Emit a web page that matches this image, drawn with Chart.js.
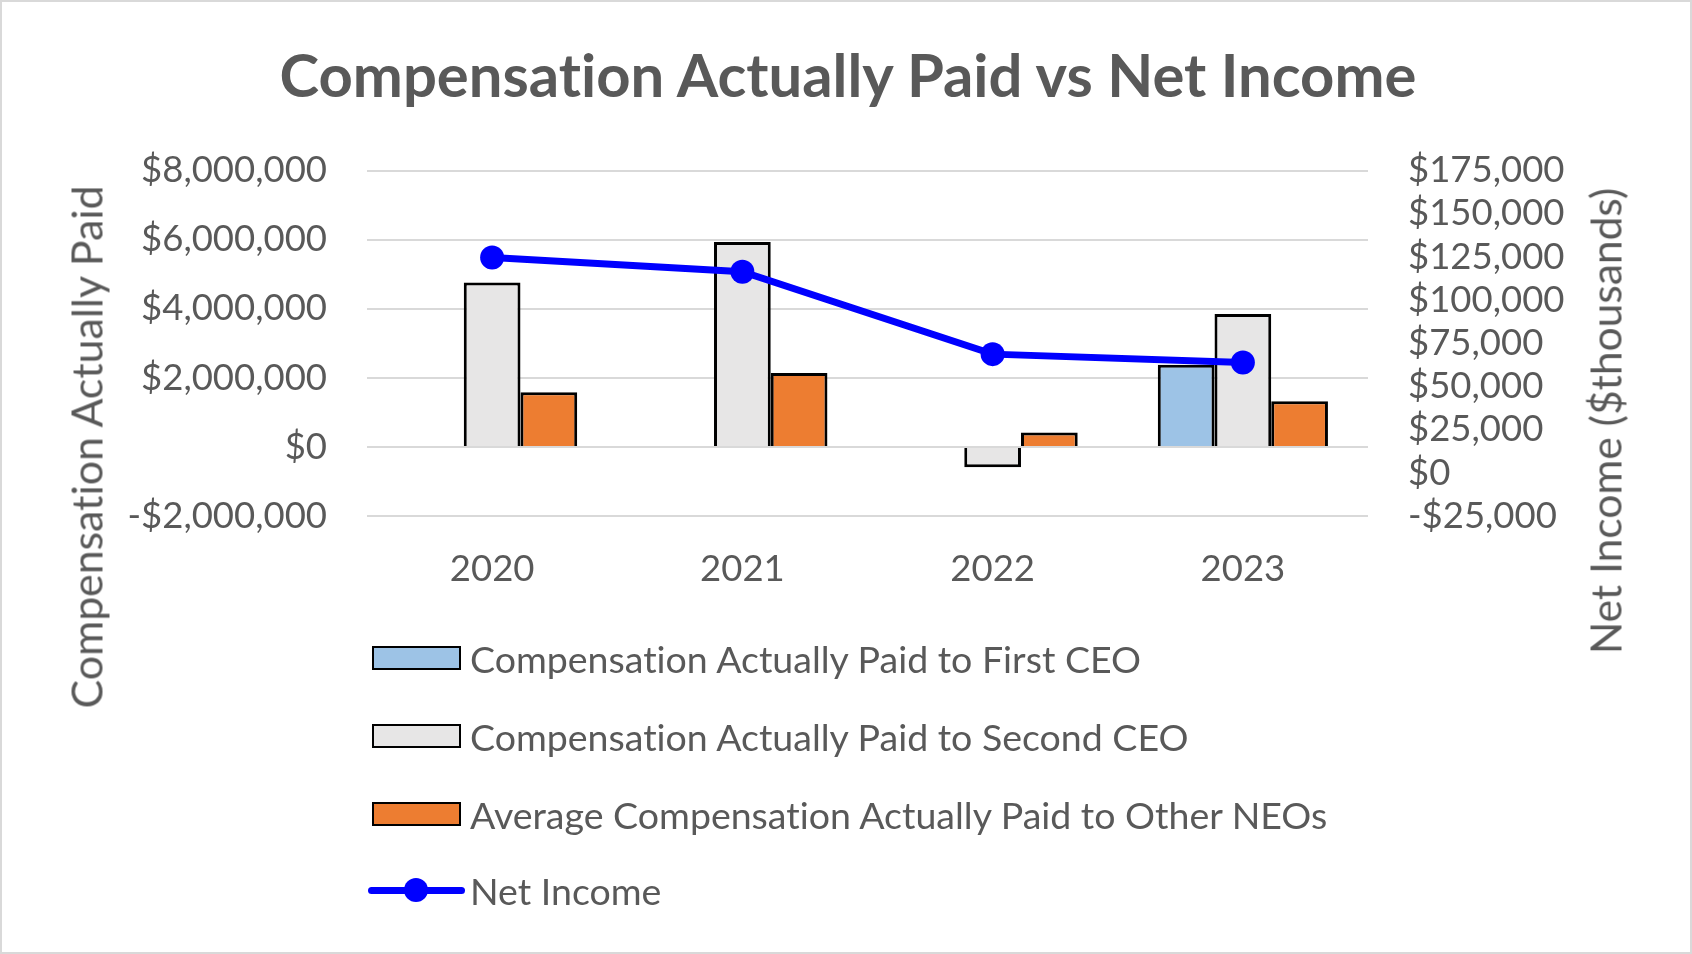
<!DOCTYPE html>
<html>
<head>
<meta charset="utf-8">
<script src="https://cdn.jsdelivr.net/npm/chart.js@4/dist/chart.umd.min.js"></script>
<style>
  html, body { margin: 0; padding: 0; background: #fff; }
  #wrap { position: relative; width: 1692px; height: 954px; box-sizing: border-box; border: 2px solid #d9d9d9; overflow: hidden; }
  #myChart { position: absolute; left: 0; top: 0; }
  .txt { position: absolute; font-family: Lato, "Open Sans", sans-serif; color: #595959; white-space: nowrap; font-variant-ligatures: none; }
  #title { left: 0; width: 1692px; top: 72px; transform: translateY(-50%); text-align: center; font-size: 59.8px; font-weight: bold; }
  .axisTitle { transform: translate(-50%, -50%) rotate(-90deg); }
  .legRow { position: absolute; left: 0; height: 40px; }
  .legBox { position: absolute; left: 370px; width: 89px; height: 24px; top: 8px; box-sizing: border-box; border: 2.5px solid #000; }
  .legLine { position: absolute; left: 366px; width: 97px; height: 7px; top: 16.5px; border-radius: 4px; background: #0000ff; }
  .legDot { position: absolute; left: 402px; width: 24px; height: 24px; top: 8px; border-radius: 50%; background: #0000ff; }
  .legText { position: absolute; left: 468px; top: 20px; transform: translateY(-50%); font-size: 37.5px; }
</style>
</head>
<body>
<div id="wrap">
  <canvas id="myChart" width="1692" height="954"></canvas>
  <div class="txt" id="title">Compensation Actually Paid vs Net Income</div>
  <div class="txt axisTitle" style="left:84px; top:445px; font-size:42.8px;">Compensation Actually Paid</div>
  <div class="txt axisTitle" style="left:1603px; top:419px; font-size:42.5px;">Net Income ($thousands)</div>
  <div id="legend"></div>
</div>
<script>
const years = ['2020', '2021', '2022', '2023'];
const firstCeo = [null, null, null, 2380000];
const secondCeo = [4760000, 5930000, -590000, 3850000];
const otherNeos = [1580000, 2140000, 420000, 1320000];
const netIncome = [124700, 116400, 68700, 63900];

const leftTicks = { min: -2000000, max: 8000000, step: 2000000 };
const rightTicks = { min: -25000, max: 175000, step: 25000 };

const textColor = '#595959';
const tickFont = { family: 'Lato', size: 36.5 };

const money = (v) => (v < 0 ? '-$' : '$') + Math.abs(v).toLocaleString('en-US');

const datasets = [
    {
        type: 'line',
        label: 'Net Income',
        data: netIncome,
        yAxisID: 'y1',
        borderColor: '#0000ff',
        backgroundColor: '#0000ff',
        borderWidth: 7,
        pointRadius: 12,
        pointHoverRadius: 12,
        pointBackgroundColor: '#0000ff',
        pointBorderWidth: 0,
        order: 0
    },
    {
        label: 'Compensation Actually Paid to First CEO',
        data: firstCeo,
        yAxisID: 'y',
        backgroundColor: '#9dc3e6',
        borderColor: '#000',
        borderWidth: 3,
        order: 1
    },
    {
        label: 'Compensation Actually Paid to Second CEO',
        data: secondCeo,
        yAxisID: 'y',
        backgroundColor: '#e7e6e6',
        borderColor: '#000',
        borderWidth: 3,
        order: 1
    },
    {
        label: 'Average Compensation Actually Paid to Other NEOs',
        data: otherNeos,
        yAxisID: 'y',
        backgroundColor: '#ed7d31',
        borderColor: '#000',
        borderWidth: 3,
        order: 1
    }
];

const config = {
    type: 'bar',
    data: { labels: years, datasets },
    options: {
        responsive: false,
        animation: false,
        devicePixelRatio: 1,
        categoryPercentage: 0.68,
        barPercentage: 1,
        layout: { padding: { left: 0, right: 0, top: 168.5, bottom: 360 } },
        plugins: { legend: { display: false }, title: { display: false }, tooltip: { enabled: false } },
        scales: {
            x: {
                grid: { display: false, drawTicks: false },
                border: { display: false },
                ticks: { font: tickFont, color: textColor, padding: 31 },
                afterFit: (s) => { s.height = 80; }
            },
            y: {
                position: 'left',
                min: leftTicks.min,
                max: leftTicks.max,
                grid: { color: '#d9d9d9', lineWidth: 2, drawTicks: false },
                border: { display: false },
                ticks: { stepSize: leftTicks.step, font: tickFont, color: textColor, padding: 40, callback: money },
                afterFit: (s) => { s.width = 365; }
            },
            y1: {
                position: 'right',
                min: rightTicks.min,
                max: rightTicks.max,
                grid: { display: false, drawTicks: false },
                border: { display: false },
                ticks: { stepSize: rightTicks.step, autoSkip: false, font: tickFont, color: textColor, padding: 40, callback: money },
                afterFit: (s) => { s.width = 326; }
            }
        }
    }
};

const myChart = new Chart(document.getElementById('myChart'), config);

// legend, bars first then the line
const legendRows = [datasets[1], datasets[2], datasets[3], datasets[0]];
const legendY = [636, 714, 792, 868];
const legend = document.getElementById('legend');
legendRows.forEach((ds, i) => {
    const row = document.createElement('div');
    row.className = 'legRow';
    row.style.top = legendY[i] + 'px';
    let swatch;
    if (ds.type === 'line') {
        swatch = '<div class="legLine"></div><div class="legDot"></div>';
    } else {
        swatch = '<div class="legBox" style="background:' + ds.backgroundColor + '"></div>';
    }
    row.innerHTML = swatch + '<div class="txt legText">' + ds.label + '</div>';
    legend.appendChild(row);
});
</script>
</body>
</html>
